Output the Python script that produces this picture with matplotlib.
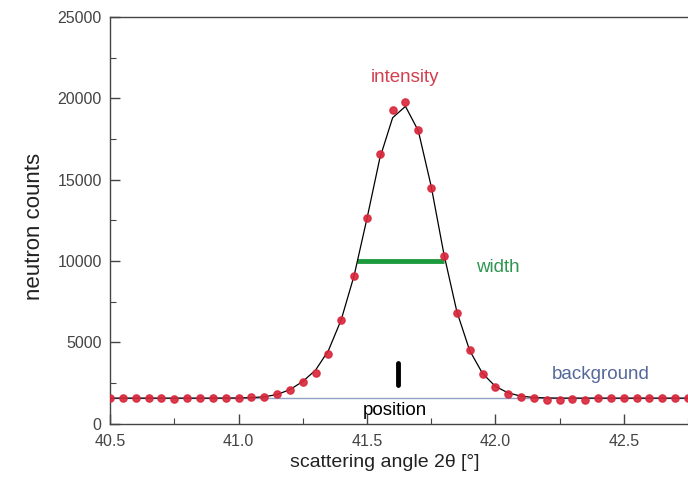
import numpy as np
import matplotlib
matplotlib.use("Agg")
import matplotlib.pyplot as plt
from matplotlib.ticker import MultipleLocator

plt.rcParams['font.family'] = ['Liberation Sans', 'DejaVu Sans']

# scattering angle 2theta, 0.05 deg steps
angle = [40.50, 40.55, 40.60, 40.65, 40.70, 40.75, 40.80, 40.85, 40.90, 40.95,
         41.00, 41.05, 41.10, 41.15, 41.20, 41.25, 41.30, 41.35, 41.40, 41.45,
         41.50, 41.55, 41.60, 41.65, 41.70, 41.75, 41.80, 41.85, 41.90, 41.95,
         42.00, 42.05, 42.10, 42.15, 42.20, 42.25, 42.30, 42.35, 42.40, 42.45,
         42.50, 42.55, 42.60, 42.65, 42.70, 42.75]

# measured neutron counts
counts = [1560, 1580, 1570, 1560, 1570, 1530, 1570, 1560, 1570, 1560,
          1580, 1620, 1640, 1840, 2050, 2550, 3100, 4300, 6380, 9050,
          12650, 16600, 19300, 19750, 18050, 14500, 10300, 6800, 4550, 3050,
          2250, 1850, 1650, 1560, 1480, 1460, 1500, 1490, 1560, 1580,
          1600, 1590, 1610, 1600, 1590, 1600]

# fitted peak profile
fit = [1580, 1580, 1580, 1580, 1580, 1580, 1580, 1580, 1580, 1585,
       1590, 1610, 1660, 1800, 2100, 2600, 3300, 4500, 6400, 9100,
       12600, 16300, 18800, 19500, 18000, 14600, 10400, 6900, 4500, 3100,
       2300, 1900, 1700, 1620, 1590, 1580, 1580, 1580, 1580, 1580,
       1580, 1580, 1580, 1580, 1580, 1580]

background = 1580
width_range = [41.46, 41.80]
width_level = 10000
peak_position = 41.62
position_mark = [2400, 3750]

fig = plt.figure(figsize=(6.88, 4.8), dpi=100)
ax = fig.add_axes([0.16, 0.117, 0.84, 0.848])

ax.axhline(background, color='#8fa3c4', lw=1.0, zorder=1)
ax.plot(width_range, [width_level, width_level], color='#1e9a3e', lw=3.5,
        solid_capstyle='butt', zorder=2)
ax.plot([peak_position, peak_position], position_mark, color='black', lw=3.5,
        solid_capstyle='round', zorder=2)
ax.plot(angle, fit, color='black', lw=0.9, zorder=3)
ax.plot(angle, counts, 'o', color='#d9263a', ms=5.2, mec='#d9263a', alpha=0.9,
        zorder=4)

ax.text(41.65, 21300, 'intensity', color='#d2404f', fontsize=13.5, ha='center', va='center')
ax.text(42.01, 9600, 'width', color='#2f9550', fontsize=13.5, ha='center', va='center')
ax.text(42.41, 3050, 'background', color='#56689a', fontsize=13.5, ha='center', va='center')
ax.text(41.61, 800, 'position', color='black', fontsize=13.5, ha='center', va='center')

ax.set_xlim(40.5, 42.75)
ax.set_ylim(0, 25000)
ax.xaxis.set_major_locator(MultipleLocator(0.5))
ax.xaxis.set_minor_locator(MultipleLocator(0.25))
ax.yaxis.set_major_locator(MultipleLocator(5000))
ax.yaxis.set_minor_locator(MultipleLocator(2500))
ax.xaxis.set_major_formatter(matplotlib.ticker.FormatStrFormatter('%.1f'))
ax.tick_params(which='both', direction='in', colors='#444444', labelsize=11.5)
ax.tick_params(which='major', length=7, width=1)
ax.tick_params(which='minor', length=4, width=0.8)
ax.tick_params(axis='x', pad=7)
ax.tick_params(axis='y', pad=6)

for side in ['left', 'bottom', 'top']:
    ax.spines[side].set_color('#444444')
    ax.spines[side].set_linewidth(1.0)
ax.spines['right'].set_visible(False)

ax.set_xlabel('scattering angle 2\u03b8 [\u00b0]', fontsize=14, color='#222222')
ax.set_ylabel('neutron counts', fontsize=16, color='#222222')
ax.xaxis.set_label_coords((385 - 110) / 578, -0.075)
ax.yaxis.set_label_coords(-(110 - 45) / 578, 0.485)

fig.savefig('out.png', dpi=100)
